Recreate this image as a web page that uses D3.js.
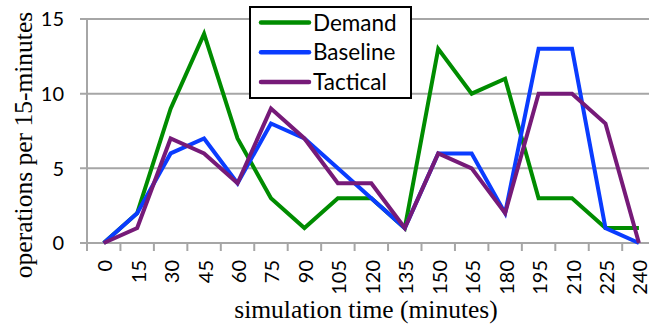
<!DOCTYPE html>
<html>
<head>
<meta charset="utf-8">
<script src="https://cdn.jsdelivr.net/npm/d3@7/dist/d3.min.js"></script>
<style>
  html, body { margin: 0; padding: 0; background: #fff; }
  svg { display: block; }
</style>
</head>
<body>
<svg id="chart" width="649" height="326"></svg>
<script>
// Simulation time bins (minutes) and operations per 15-minute bin
const categories = ["0","15","30","45","60","75","90","105","120","135","150","165","180","195","210","225","240"];
const demand   = [0, 2, 9, 14, 7, 3, 1, 3, 3, 1, 13, 10, 11, 3, 3, 1, 1];
const baseline = [0, 2, 6, 7, 4, 8, 7, 5, 3, 1, 6, 6, 2, 13, 13, 1, 0];
const tactical = [0, 1, 7, 6, 4, 9, 7, 4, 4, 1, 6, 5, 2, 10, 10, 8, 0];
const yTicks = [0, 5, 10, 15];
const seriesNames = ["Demand", "Baseline", "Tactical"];

const series = [
  { name: seriesNames[0], values: demand,   color: "#008c00" },
  { name: seriesNames[1], values: baseline, color: "#0a3cff" },
  { name: seriesNames[2], values: tactical, color: "#761a78" }
];

const svg = d3.select("#chart");
const plotLeft = 87, plotTop = 19, plotBottom = 243;
const bandW = 33.45;
const sans = "Lato, Open Sans, sans-serif";
const serif = "Liberation Serif, Times New Roman, serif";

const x = d3.scaleBand().domain(categories).range([plotLeft, plotLeft + bandW * categories.length]).padding(0);
const y = d3.scaleLinear().domain([0, 15]).range([plotBottom, plotTop]);
const grid = "#a6a6a6";

// horizontal gridlines (the 0 line doubles as the x axis)
svg.append("g").selectAll("line").data(yTicks).join("line")
  .attr("x1", plotLeft - 7).attr("x2", 660)
  .attr("y1", d => y(d)).attr("y2", d => y(d))
  .attr("stroke", grid).attr("stroke-width", 2);

// y axis line
svg.append("line")
  .attr("x1", plotLeft).attr("x2", plotLeft)
  .attr("y1", y(15)).attr("y2", y(0) + 1)
  .attr("stroke", grid).attr("stroke-width", 2);

// x tick marks at category boundaries
const bounds = categories.map(c => x(c)).concat([x(categories[categories.length - 1]) + bandW]);
svg.append("g").selectAll("line").data(bounds).join("line")
  .attr("x1", d => d).attr("x2", d => d)
  .attr("y1", y(0)).attr("y2", y(0) + 8)
  .attr("stroke", grid).attr("stroke-width", 2);

// y tick labels
svg.append("g").selectAll("text").data(yTicks).join("text")
  .attr("x", 64).attr("y", d => y(d))
  .attr("dy", "0.36em")
  .attr("text-anchor", "end")
  .attr("font-family", sans)
  .attr("font-size", 20)
  .attr("fill", "#000")
  .text(d => d);

// x tick labels, rotated
svg.append("g").selectAll("text").data(categories).join("text")
  .attr("transform", d => `translate(${x(d) + bandW / 2 + 1.5},260) rotate(-90)`)
  .attr("dy", "0.35em")
  .attr("text-anchor", "end")
  .attr("font-family", sans)
  .attr("font-size", 20)
  .attr("fill", "#000")
  .text(d => d);

// axis titles
svg.append("text")
  .attr("x", 366).attr("y", 318)
  .attr("text-anchor", "middle")
  .attr("font-family", serif)
  .attr("font-size", 25.5)
  .text("simulation time (minutes)");

svg.append("text")
  .attr("transform", "translate(32,145) rotate(-90)")
  .attr("text-anchor", "middle")
  .attr("font-family", serif)
  .attr("font-size", 25.5)
  .text("operations per 15-minutes");

// series lines
const line = d3.line()
  .x((d, i) => x(categories[i]) + bandW / 2)
  .y(d => y(d));

svg.append("g").selectAll("path").data(series).join("path")
  .attr("d", d => line(d.values))
  .attr("fill", "none")
  .attr("stroke", d => d.color)
  .attr("stroke-width", 4)
  .attr("stroke-linejoin", "miter")
  .attr("stroke-miterlimit", 10);

// legend
const lg = svg.append("g");
lg.append("rect")
  .attr("x", 250).attr("y", 7).attr("width", 161).attr("height", 91)
  .attr("fill", "#fff").attr("stroke", "#000").attr("stroke-width", 2);
const items = lg.selectAll("g.item").data(series).join("g")
  .attr("class", "item")
  .attr("transform", (d, i) => `translate(0,${22.5 + i * 29.7})`);
items.append("line")
  .attr("x1", 261).attr("x2", 309).attr("y1", 0).attr("y2", 0)
  .attr("stroke", d => d.color).attr("stroke-width", 4.5)
  .attr("stroke-linecap", "round");
items.append("text")
  .attr("x", 313).attr("y", 0).attr("dy", "0.36em")
  .attr("font-family", sans)
  .attr("font-size", 22.5)
  .attr("fill", "#000")
  .text(d => d.name);
</script>
</body>
</html>
